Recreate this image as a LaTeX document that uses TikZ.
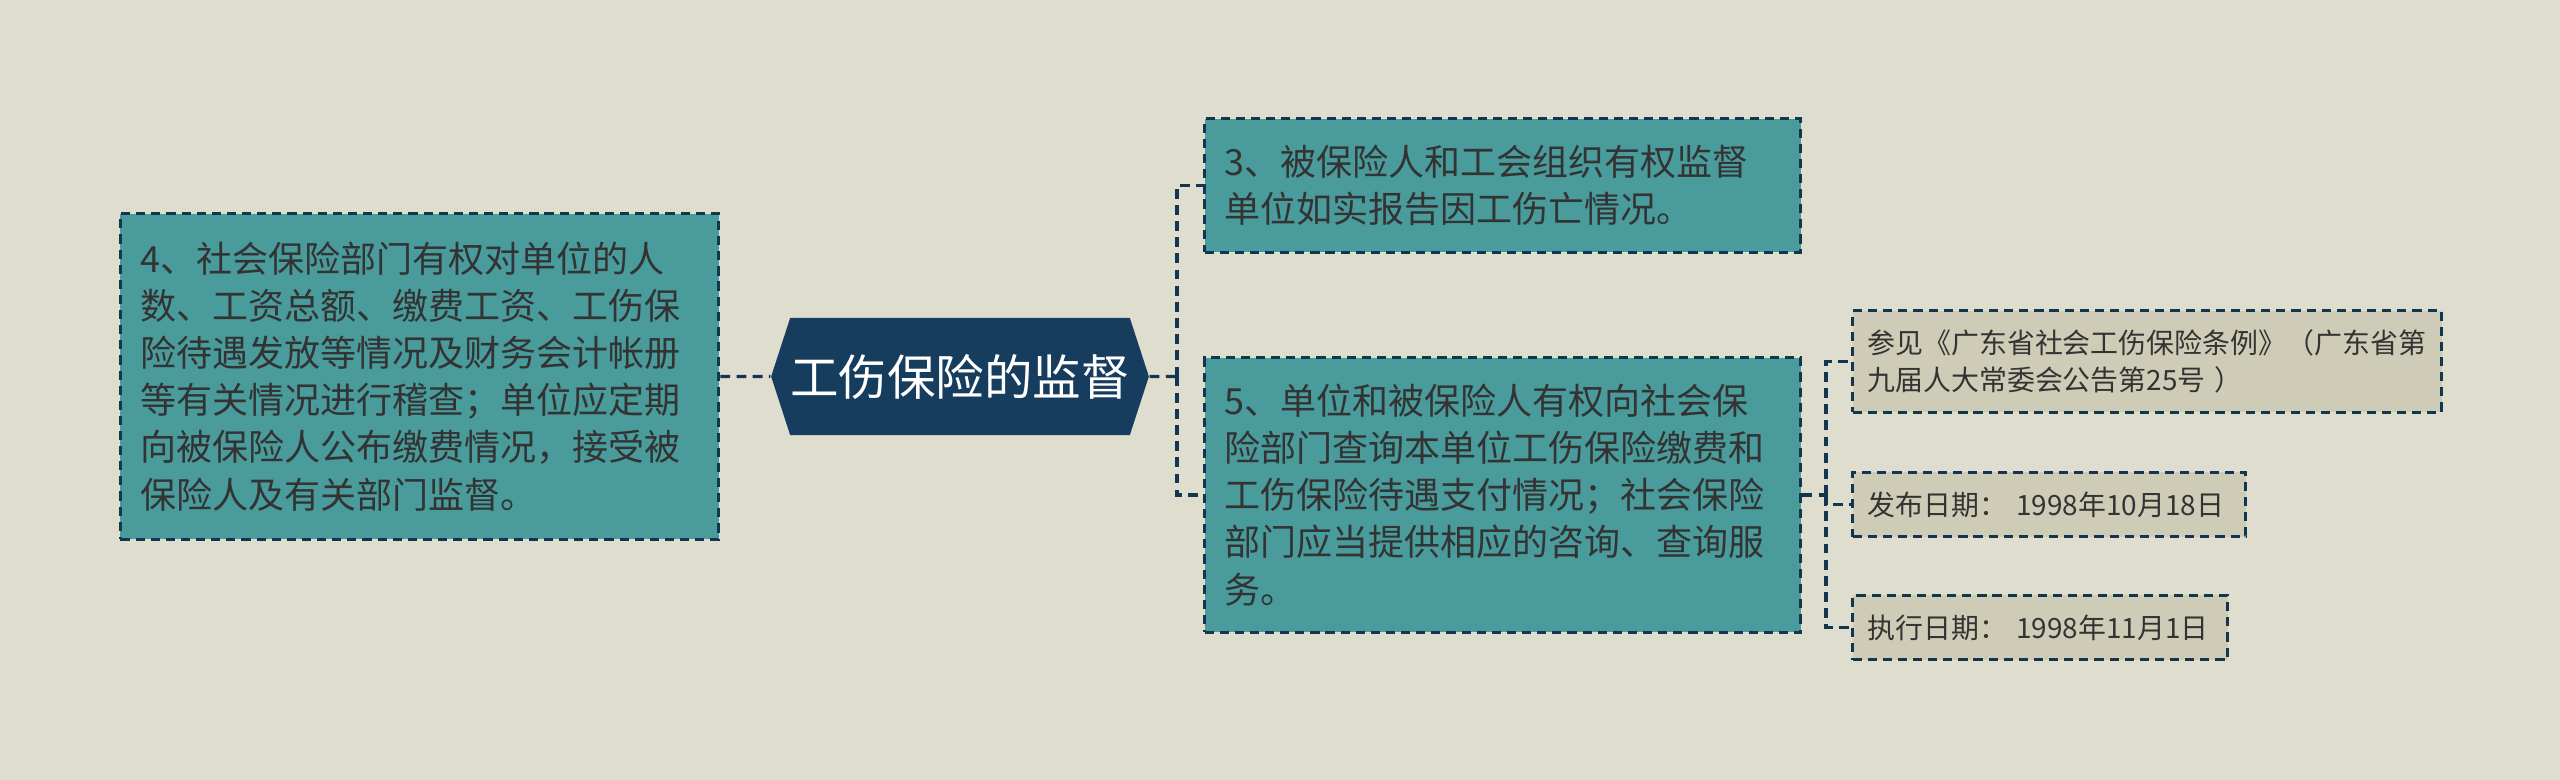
\documentclass[tikz,border=0pt]{standalone}
\usepackage{fontspec}
\setmainfont{Noto Sans CJK SC}
\usetikzlibrary{shapes.symbols}

\definecolor{paper}{HTML}{DFDDCE}
\definecolor{itemfill}{HTML}{4A9B9B}
\definecolor{notefill}{HTML}{CECCB6}
\definecolor{rootfill}{HTML}{163D5E}
\definecolor{edge}{HTML}{123550}
\definecolor{ink}{HTML}{333333}

\begin{document}
\begin{tikzpicture}[x=0.01cm, y=-0.01cm,
  link/.style={draw=edge, line width=0.9pt, dash pattern=on 2.8pt off 1.8pt},
  every box/.style={draw=edge, line width=0.85pt, dash pattern=on 2.6pt off 1.7pt,
    anchor=west, align=left, inner xsep=0.2cm, inner ysep=0pt, text=ink},
  item/.style={every box, fill=itemfill, font=\fontsize{10.24pt}{13.4pt}\selectfont},
  note/.style={every box, fill=notefill, inner xsep=0.15cm, font=\fontsize{7.94pt}{10.5pt}\selectfont}]

  \fill[paper] (0,0) rectangle (2560,780);
  \useasboundingbox (0,0) rectangle (2560,780);

  \node [signal, signal to=west and east, signal pointer angle=144, fill=rootfill,
    text=white, font=\fontsize{13.8pt}{16pt}\selectfont, inner sep=0pt,
    minimum width=3.68cm, minimum height=1.17cm] (root) at (960,376.5) {工伤保险的监督};

  \node [item, text width=5.58cm, minimum height=3.25cm] (item-4) at (119,376.5)
  {4、社会保险部门有权对单位的人\\数、工资总额、缴费工资、工伤保\\险待遇发放等情况及财务会计帐册\\等有关情况进行稽查；单位应定期\\向被保险人公布缴费情况，接受被\\保险人及有关部门监督。};

  \node [item, text width=5.56cm, minimum height=1.33cm] (item-3) at (1203,185.5)
  {3、被保险人和工会组织有权监督\\单位如实报告因工伤亡情况。};

  \node [item, text width=5.56cm, minimum height=2.74cm] (item-5) at (1203,495)
  {5、单位和被保险人有权向社会保\\险部门查询本单位工伤保险缴费和\\工伤保险待遇支付情况；社会保险\\部门应当提供相应的咨询、查询服\\务。};

  \foreach \t/\w/\h/\y [count=\i] in {
    {参见《广东省社会工伤保险条例》（广东省第\\九届人大常委会公告第25号 ）}/5.59/1.01/361.5,
    {发布日期： 1998年10月18日}/3.63/0.64/504.5,
    {执行日期： 1998年11月1日}/3.45/0.64/627.5}
  \node [note, text width=\w cm, minimum height=\h cm] (note-\i) at (1851,\y) {\t};

  \coordinate (spine-1) at (1177,376.5);
  \coordinate (spine-2) at (1826,495);

  \draw [link] (item-4) -- (root);
  \draw [link] (root) -- (spine-1);
  \foreach \n in {3,5}
  \draw [link] (spine-1) |- (item-\n.west);

  \draw [link] (item-5) -- (spine-2);
  \foreach \i in {1,...,3}
  \draw [link] (spine-2) |- (note-\i.west);

\end{tikzpicture}
\end{document}
